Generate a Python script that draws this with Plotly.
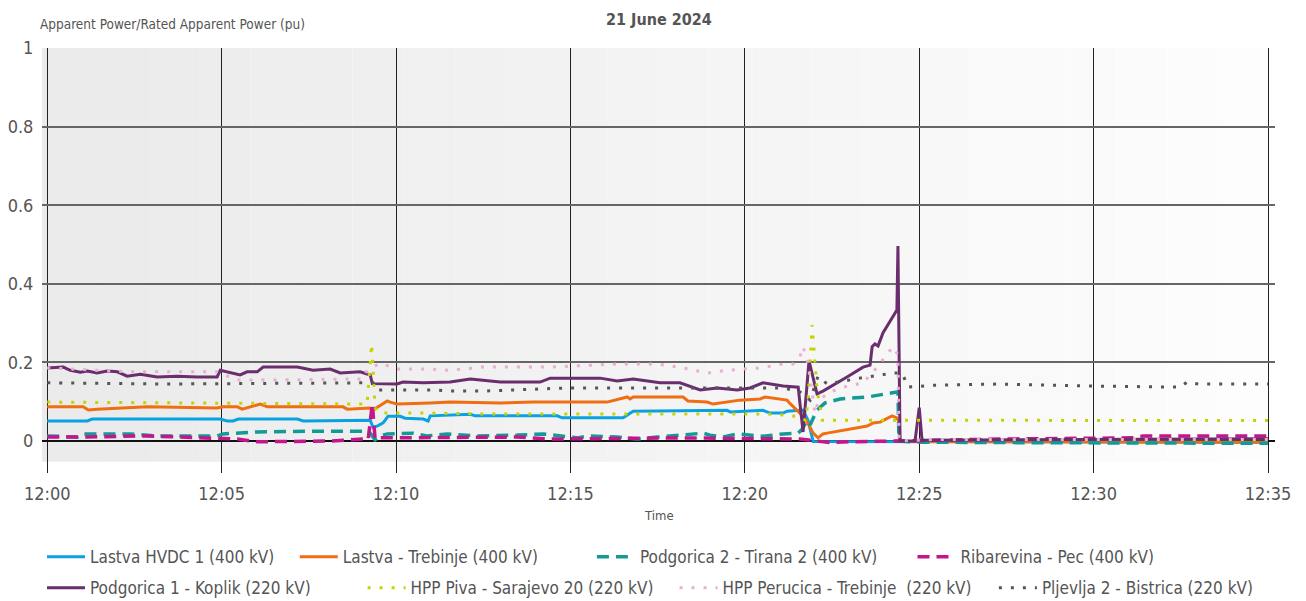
import plotly.graph_objects as go
import pandas as pd

# minutes after 12:00 and per-unit values
hvdc_t = [0, 1.15, 1.29, 4.96, 5.16, 5.33, 5.48, 7.17, 7.34, 9.26, 9.34, 9.46, 9.63, 9.77, 10.12, 10.26, 10.78,
          10.92, 10.98, 12.13, 12.27, 14.62, 14.76, 16.51, 16.80, 19.49, 19.58, 20.52, 20.72, 21.10, 21.21, 21.67,
          21.81, 21.96, 35]
hvdc_v = [0.051, 0.051, 0.056, 0.056, 0.051, 0.051, 0.056, 0.056, 0.051, 0.053, 0.035, 0.038, 0.046, 0.063, 0.063,
          0.058, 0.056, 0.051, 0.064, 0.068, 0.064, 0.064, 0.059, 0.059, 0.076, 0.078, 0.074, 0.078, 0.071, 0.071,
          0.076, 0.079, 0.053, -0.001, -0.003]

trebinje_t = [0, 1.03, 1.18, 1.43, 2.87, 4.87, 5.04, 5.45, 5.59, 5.82, 6.11, 6.31, 8.48, 8.60, 9.26, 9.34, 9.75,
              9.83, 10.03, 10.98, 11.55, 12.99, 13.93, 16.05, 16.63, 16.71, 16.80, 18.23, 18.37, 18.92, 19.09, 19.86,
              20.44, 20.58, 21.21, 21.30, 21.58, 21.79, 21.96, 22.10, 22.24, 22.36, 23.51, 23.68, 23.88, 24.22, 24.36,
              24.42, 24.45, 35]
trebinje_v = [0.087, 0.087, 0.079, 0.081, 0.087, 0.084, 0.087, 0.087, 0.081, 0.087, 0.094, 0.087, 0.087, 0.081,
              0.084, 0.079, 0.102, 0.099, 0.094, 0.097, 0.099, 0.097, 0.099, 0.099, 0.112, 0.107, 0.112, 0.112,
              0.102, 0.099, 0.094, 0.104, 0.107, 0.112, 0.104, 0.095, 0.071, 0.048, 0.020, 0.008, 0.018, 0.020,
              0.038, 0.046, 0.048, 0.064, 0.059, 0.048, -0.001, -0.003]

tirana_t = [0, 0.86, 1.03, 2.38, 3.15, 4.87, 5.04, 6.02, 7.62, 9.06, 9.26, 9.40, 9.55, 9.75, 10.49, 10.89, 11.47,
            12.33, 13.47, 14.22, 15.19, 15.56, 16.34, 16.91, 17.49, 18.80, 19.00, 19.38, 19.78, 20.52, 21.10, 21.53,
            21.64, 21.79, 21.87, 22.07, 22.30, 22.73, 23.51, 24.16, 24.39, 24.42, 25.02, 27.32, 35]
tirana_v = [0.013, 0.010, 0.018, 0.018, 0.013, 0.013, 0.018, 0.023, 0.025, 0.025, 0.020, 0.003, 0.013, 0.018, 0.020,
            0.013, 0.018, 0.013, 0.015, 0.018, 0.008, 0.013, 0.010, 0.005, 0.010, 0.020, 0.015, 0.010, 0.018, 0.012,
            0.018, 0.020, 0.030, 0.053, 0.041, 0.079, 0.097, 0.107, 0.112, 0.122, 0.125, 0.0, -0.003, -0.004, -0.006]

pec_t = [0, 0.95, 2.87, 4.87, 5.45, 6.02, 8.11, 9.06, 9.20, 9.32, 9.40, 9.55, 9.92, 10.61, 11.92, 13.47, 14.42,
         18.23, 21.58, 22.44, 23.02, 24.45, 25.40, 27.32, 31.13, 31.42, 35]
pec_v = [0.010, 0.010, 0.013, 0.008, 0.005, -0.002, 0.0, 0.005, 0.003, 0.095, 0.005, 0.008, 0.008, 0.010, 0.010,
         0.010, 0.005, 0.008, 0.005, -0.004, -0.002, 0.0, 0.003, 0.005, 0.008, 0.013, 0.013]

koplik_t = [0, 0.46, 0.66, 0.95, 1.15, 1.43, 1.72, 2.01, 2.29, 2.67, 3.15, 3.73, 4.30, 4.87, 4.96, 5.53, 5.73,
            6.02, 6.19, 7.17, 7.62, 8.11, 8.40, 8.97, 9.26, 9.32, 10.03, 10.20, 10.78, 11.55, 12.13, 12.99, 14.13,
            14.42, 15.85, 16.34, 16.80, 17.57, 18.14, 18.72, 19.21, 19.78, 20.15, 20.52, 21.10, 21.53, 21.67, 21.84,
            22.07, 22.24, 22.93, 23.39, 23.59, 23.65, 23.73, 23.82, 23.96, 24.36, 24.39, 24.45, 24.88, 25.00, 25.08,
            30.0, 35]
koplik_v = [0.186, 0.188, 0.180, 0.175, 0.178, 0.173, 0.178, 0.176, 0.165, 0.170, 0.163, 0.165, 0.163, 0.163,
            0.180, 0.168, 0.176, 0.176, 0.188, 0.188, 0.180, 0.183, 0.173, 0.176, 0.168, 0.146, 0.145, 0.150, 0.148,
            0.150, 0.158, 0.150, 0.150, 0.160, 0.160, 0.153, 0.158, 0.148, 0.148, 0.130, 0.135, 0.130, 0.135, 0.148,
            0.140, 0.137, 0.023, 0.204, 0.120, 0.127, 0.163, 0.188, 0.193, 0.240, 0.247, 0.242, 0.275, 0.333, 0.496,
            0.0, 0.0, 0.085, 0.002, 0.004, 0.006]

piva_t = [0, 9.17, 9.30, 9.40, 9.46, 9.63, 10.98, 12.33, 16.80, 20.64, 21.10, 21.58, 21.73, 21.81, 21.93, 22.07,
          22.16, 22.22, 35]
piva_v = [0.099, 0.094, 0.247, 0.085, 0.074, 0.071, 0.071, 0.069, 0.069, 0.069, 0.066, 0.062, 0.053, 0.097, 0.295,
          0.130, 0.087, 0.053, 0.052]

perucica_t = [0, 2.38, 4.87, 5.45, 6.19, 9.06, 9.17, 9.55, 10.03, 10.98, 11.55, 12.50, 14.42, 16.34, 17.49, 18.23,
              18.92, 19.49, 20.44, 21.10, 21.38, 21.58, 21.67, 21.79, 21.87, 22.01, 22.10, 22.36, 22.82, 23.39,
              23.68, 23.96, 24.25, 24.39, 24.42, 25.40, 35]
perucica_v = [0.186, 0.176, 0.176, 0.155, 0.155, 0.158, 0.180, 0.198, 0.183, 0.183, 0.180, 0.188, 0.188, 0.196,
              0.196, 0.186, 0.173, 0.180, 0.186, 0.196, 0.196, 0.214, 0.240, 0.206, 0.163, 0.071, 0.099, 0.122,
              0.137, 0.148, 0.176, 0.206, 0.240, 0.219, 0.0, 0.004, 0.004]

bistrica_t = [0, 3.33, 9.06, 9.34, 9.46, 11.06, 11.55, 12.50, 14.91, 21.10, 21.58, 21.87, 22.10, 22.36, 23.30,
              24.25, 24.51, 24.68, 25.40, 27.32, 29.81, 32.48, 32.68, 33.0, 35]
bistrica_v = [0.148, 0.145, 0.148, 0.148, 0.130, 0.130, 0.127, 0.127, 0.135, 0.135, 0.125, 0.104, 0.165, 0.145,
              0.160, 0.173, 0.173, 0.137, 0.142, 0.145, 0.140, 0.137, 0.150, 0.145, 0.145]

series = [
    ("Lastva HVDC 1 (400 kV)", hvdc_t, hvdc_v, "#0aa1e2", "solid", 3),
    ("Lastva - Trebinje (400 kV)", trebinje_t, trebinje_v, "#f06e12", "solid", 3),
    ("Podgorica 2 - Tirana 2 (400 kV)", tirana_t, tirana_v, "#119b94", "12px,7px", 3.5),
    ("Ribarevina - Pec (400 kV)", pec_t, pec_v, "#c4158c", "12px,7px", 3.5),
    ("Podgorica 1 - Koplik (220 kV)", koplik_t, koplik_v, "#6a2d6e", "solid", 3),
    ("HPP Piva - Sarajevo 20 (220 kV)", piva_t, piva_v, "#c5d300", "3px,9px", 3),
    ("HPP Perucica - Trebinje  (220 kV)", perucica_t, perucica_v, "#e9aed3", "3px,9px", 3),
    ("Pljevlja 2 - Bistrica (220 kV)", bistrica_t, bistrica_v, "#555555", "3px,9px", 3),
]

base = pd.Timestamp("2024-06-21 12:00")
FONT = "Liberation Sans Narrow, DejaVu Sans Condensed, Roboto, sans-serif"
GREY = "#555555"

# legend slots (paper coords), two rows of four
leg_x = [0.0, 0.205, 0.446, 0.706, 0.0, 0.26, 0.513, 0.772]
leg_y = [-0.198, -0.198, -0.198, -0.198, -0.271, -0.271, -0.271, -0.271]

fig = go.Figure()
legends = {}
for i, (name, t, v, color, dash, w) in enumerate(series):
    lg = "legend" if i == 0 else "legend%d" % (i + 1)
    fig.add_trace(go.Scatter(
        x=base + pd.to_timedelta(t, unit="m"), y=v, mode="lines", name=name, showlegend=True,
        line=dict(color=color, dash=dash, width=w), legend=lg))
    legends[lg] = dict(x=leg_x[i], y=leg_y[i], xanchor="left", yanchor="middle", visible=True,
                       orientation="h", bgcolor="rgba(0,0,0,0)", itemwidth=38,
                       font=dict(family=FONT, size=17, color=GREY))
fig.update_layout(showlegend=True, **legends)

# soft left-to-right grey background
n = 24
for k in range(n):
    c = int(235 + (253 - 235) * k / (n - 1))
    x0 = base - pd.Timedelta(seconds=9) if k == 0 else base + pd.Timedelta(minutes=35 * k / n)
    x1 = base + pd.Timedelta(minutes=35 * (k + 1) / n)
    fig.add_shape(type="rect", xref="x", yref="y", x0=x0, x1=x1, y0=-0.053, y1=1.0,
                  fillcolor="rgb(%d,%d,%d)" % (c, c, c), line_width=0, layer="below")

# page body has an 8px margin, so the figure is 8px smaller and margins shifted
fig.update_layout(
    width=1298, height=593,
    margin=dict(l=34, r=31, t=40, b=128, autoexpand=False),
    paper_bgcolor="white", plot_bgcolor="white",
    font=dict(family=FONT, color=GREY),
    xaxis=dict(range=[base - pd.Timedelta(seconds=9), base + pd.Timedelta(minutes=35, seconds=12)],
               tickvals=[base + pd.Timedelta(minutes=m) for m in range(0, 36, 5)],
               tickformat="%H:%M", showgrid=True, gridcolor="#222222", gridwidth=1.2,
               ticks="outside", ticklen=4, tickcolor="rgba(0,0,0,0)",
               tickfont=dict(size=18, color=GREY), zeroline=False, showline=False),
    yaxis=dict(range=[-0.0814, 1.0], tickvals=[0, 0.2, 0.4, 0.6, 0.8, 1],
               ticktext=["0", "0.2", "0.4", "0.6", "0.8", "1"],
               showgrid=True, gridcolor="#666666", gridwidth=1.5,
               zeroline=True, zerolinecolor="#111111", zerolinewidth=1.5,
               ticks="outside", ticklen=4, tickcolor="rgba(0,0,0,0)",
               tickfont=dict(size=18, color=GREY), showline=False),
    annotations=[
        dict(text="<b>21 June 2024</b>", xref="paper", yref="paper", x=0.5, y=1.066,
             xanchor="center", yanchor="middle", showarrow=False, font=dict(size=16, color=GREY)),
        dict(text="Apparent Power/Rated Apparent Power (pu)", xref="paper", yref="paper", x=-0.003, y=1.056,
             xanchor="left", yanchor="middle", showarrow=False, font=dict(size=13.5, color=GREY)),
        dict(text="Time", xref="paper", yref="paper", x=0.5, y=-0.099, xanchor="center", yanchor="middle",
             showarrow=False, font=dict(size=13, color=GREY)),
    ],
)

fig.write_html("out.html")
